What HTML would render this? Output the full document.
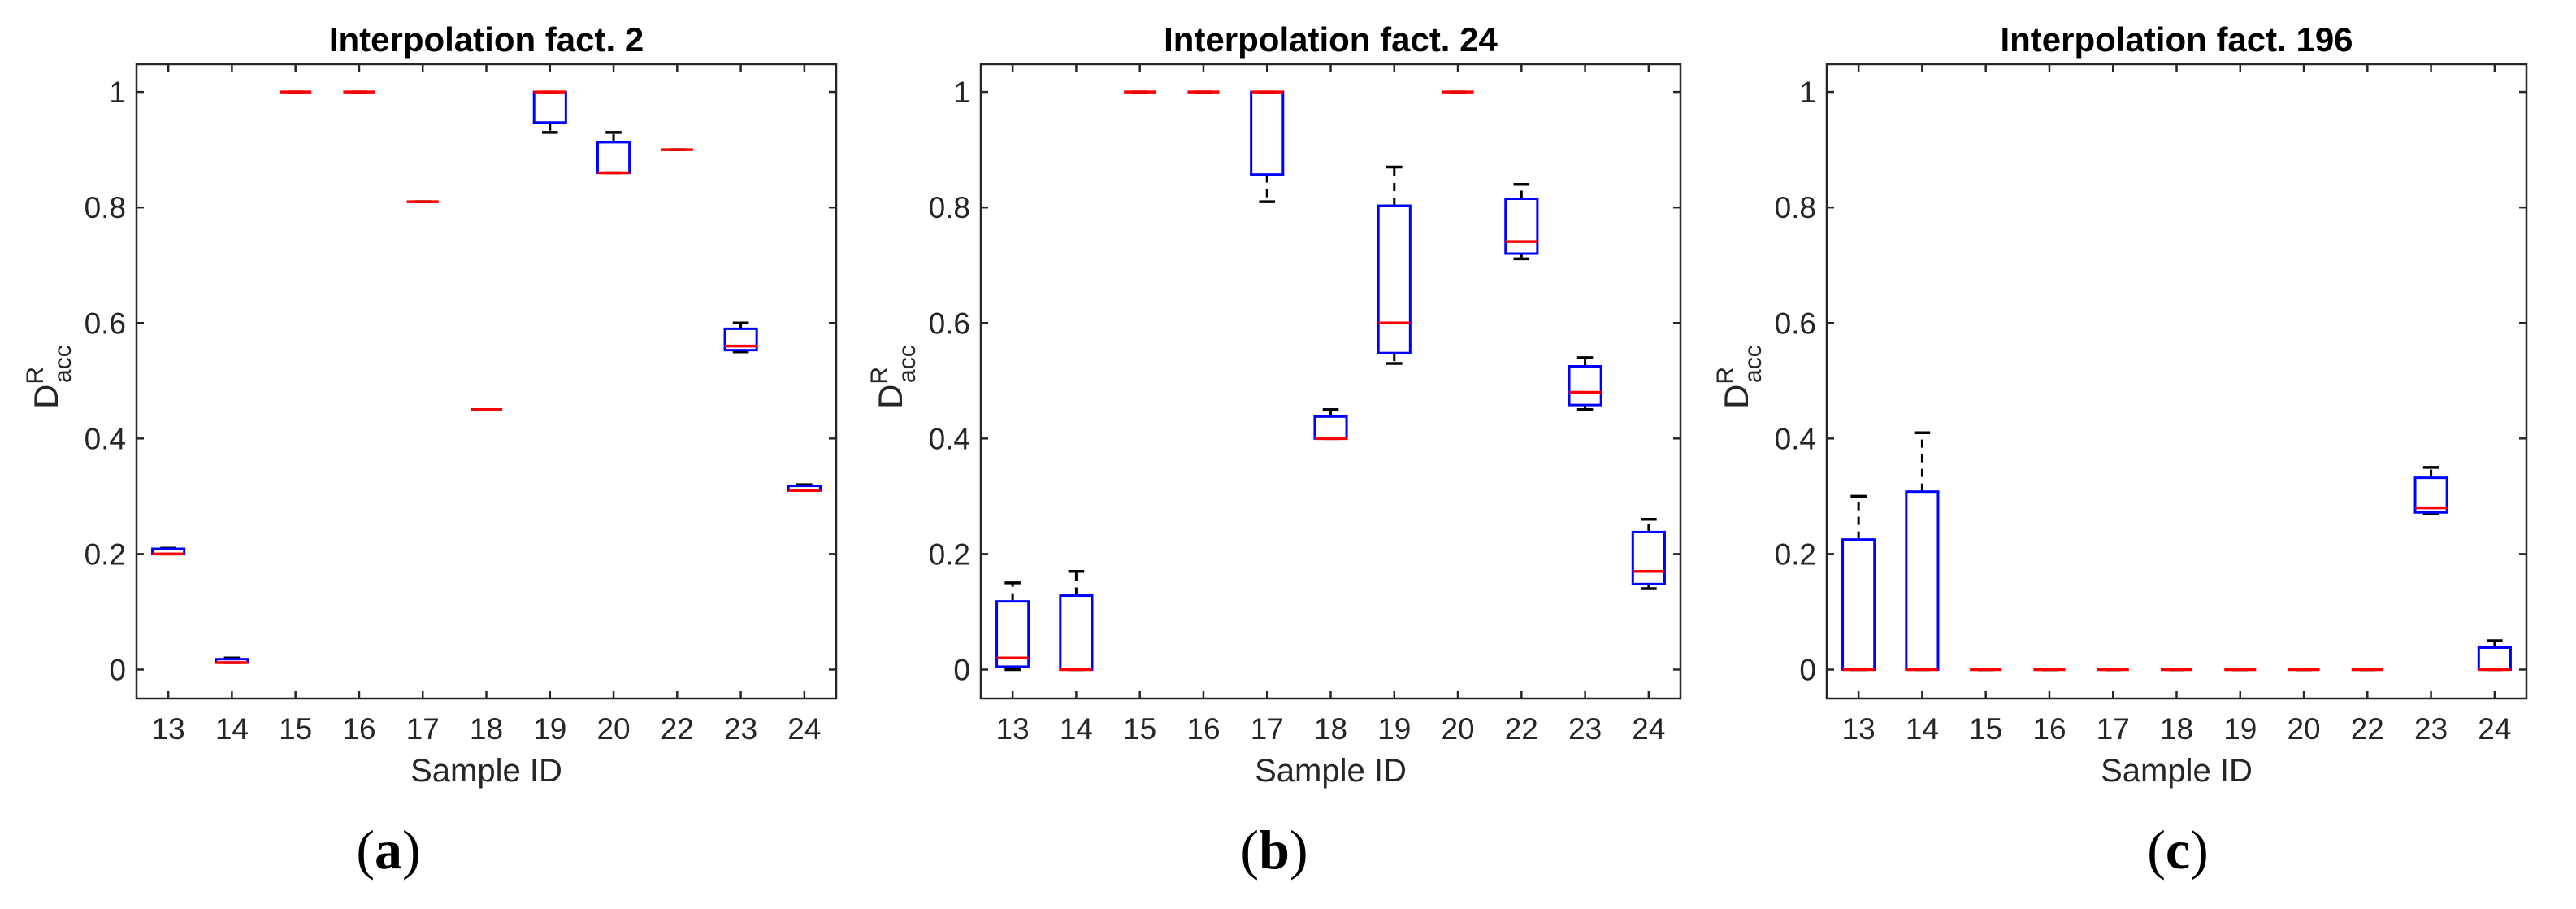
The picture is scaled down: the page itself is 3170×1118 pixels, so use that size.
<!DOCTYPE html>
<html><head><meta charset="utf-8"><style>
html,body{margin:0;padding:0;background:#fff}
svg{display:block}
text{font-family:"Liberation Sans",Arial,sans-serif;fill:#262626}
</style></head><body>
<svg id="fig" width="3170" height="1118" viewBox="0 0 3170 1118" xmlns="http://www.w3.org/2000/svg"></svg>
<script>
const categories = ["13","14","15","16","17","18","19","20","22","23","24"];
const yTickLabels = ["0","0.2","0.4","0.6","0.8","1"];
const yTickValues = [0,0.2,0.4,0.6,0.8,1];
const titles = ["Interpolation fact. 2","Interpolation fact. 24","Interpolation fact. 196"];
const panelLabels = ["a","b","c"];

// Panel a
const aMedian = [0.20,0.012,1,1,0.81,0.45,1,0.86,0.90,0.56,0.31];
const aQ1     = [0.20,0.012,1,1,0.81,0.45,0.947,0.86,0.90,0.553,0.31];
const aQ3     = [0.209,0.018,1,1,0.81,0.45,1,0.913,0.90,0.59,0.318];
const aWLo    = [0.20,0.012,1,1,0.81,0.45,0.93,0.86,0.90,0.55,0.31];
const aWHi    = [0.21,0.02,1,1,0.81,0.45,1,0.93,0.90,0.60,0.32];
// Panel b
const bMedian = [0.02,0,1,1,1,0.40,0.60,1,0.741,0.48,0.17];
const bQ1     = [0.005,0,1,1,0.857,0.40,0.548,1,0.72,0.458,0.148];
const bQ3     = [0.118,0.128,1,1,1,0.438,0.803,1,0.815,0.525,0.238];
const bWLo    = [0,0,1,1,0.81,0.40,0.53,1,0.711,0.45,0.14];
const bWHi    = [0.15,0.17,1,1,1,0.45,0.87,1,0.84,0.54,0.26];
// Panel c
const cMedian = [0,0,0,0,0,0,0,0,0,0.28,0];
const cQ1     = [0,0,0,0,0,0,0,0,0,0.272,0];
const cQ3     = [0.225,0.308,0,0,0,0,0,0,0,0.332,0.038];
const cWLo    = [0,0,0,0,0,0,0,0,0,0.27,0];
const cWHi    = [0.30,0.41,0,0,0,0,0,0,0,0.35,0.05];

const panels = [
  {left:168, med:aMedian,q1:aQ1,q3:aQ3,lo:aWLo,hi:aWHi, lx:478},
  {left:1207,med:bMedian,q1:bQ1,q3:bQ3,lo:bWLo,hi:bWHi, lx:1568},
  {left:2248,med:cMedian,q1:cQ1,q3:cQ3,lo:cWLo,hi:cWHi, lx:2680}
];
const NS="http://www.w3.org/2000/svg";
const svg=document.getElementById('fig');
const TOP=79, BOT=859, YMIN=-0.05, YMAX=1.048, W=861;
function mk(tag,attrs,parent){const e=document.createElementNS(NS,tag);for(const k in attrs)e.setAttribute(k,attrs[k]);(parent||svg).appendChild(e);return e;}
panels.forEach((p,pi)=>{
  const g=mk('g',{});
  
  
  const xs=i=>p.left+(i+0.5)*(W/categories.length);
  const ys=v=>BOT-(v-YMIN)/(YMAX-YMIN)*(BOT-TOP);
  const unit=W/categories.length;
  // axes box
  const box=mk('rect',{x:p.left,y:TOP,width:W,height:BOT-TOP,fill:'none',stroke:'#262626','stroke-width':2.5},g);
  
  
  // x ticks
  categories.forEach((c,i)=>{
    const x=xs(i);
    mk('line',{x1:x,y1:BOT,x2:x,y2:BOT-9,stroke:'#262626','stroke-width':2.5},g);
    mk('line',{x1:x,y1:TOP,x2:x,y2:TOP+9,stroke:'#262626','stroke-width':2.5},g);
    const t=mk('text',{x:x,y:909,'text-anchor':'middle','font-size':37},g);
    t.textContent=c;
    
    
  });
  yTickValues.forEach((v,i)=>{
    const y=ys(v);
    mk('line',{x1:p.left,y1:y,x2:p.left+9,y2:y,stroke:'#262626','stroke-width':2.5},g);
    mk('line',{x1:p.left+W,y1:y,x2:p.left+W-9,y2:y,stroke:'#262626','stroke-width':2.5},g);
    const t=mk('text',{x:p.left-13,y:y+13,'text-anchor':'end','font-size':37},g);
    t.textContent=yTickLabels[i];
    
    
  });
  // boxes
  categories.forEach((c,i)=>{
    const x=xs(i), hw=unit*0.25, cw=unit*0.125;
    const bg=mk('g',{},g);
    
    
    const yq1=ys(p.q1[i]), yq3=ys(p.q3[i]), ylo=ys(p.lo[i]), yhi=ys(p.hi[i]);
    if(yhi<yq3) mk('line',{x1:x,y1:yq3,x2:x,y2:yhi,stroke:'#000','stroke-width':3,'stroke-dasharray':'10,8'},bg);
    if(ylo>yq1) mk('line',{x1:x,y1:yq1,x2:x,y2:ylo,stroke:'#000','stroke-width':3,'stroke-dasharray':'10,8'},bg);
    mk('line',{x1:x-cw,y1:yhi,x2:x+cw,y2:yhi,stroke:'#000','stroke-width':3.5},bg);
    mk('line',{x1:x-cw,y1:ylo,x2:x+cw,y2:ylo,stroke:'#000','stroke-width':3.5},bg);
    mk('rect',{x:x-hw,y:yq3,width:2*hw,height:Math.max(0,yq1-yq3),fill:'none',stroke:'#0000ff','stroke-width':3},bg);
    const m=mk('line',{x1:x-hw,y1:ys(p.med[i]),x2:x+hw,y2:ys(p.med[i]),stroke:'#ff0000','stroke-width':3.5},bg);
    
    
  });
  const cx=p.left+W/2;
  const tt=mk('text',{x:cx,y:63,'text-anchor':'middle','font-size':42,'font-weight':'bold',style:'fill:#000'},g);
  tt.textContent=titles[pi];
  
  
  const xl=mk('text',{x:cx,y:961,'text-anchor':'middle','font-size':40},g);
  xl.textContent='Sample ID';
  
  
  const yl=mk('text',{transform:'translate('+(p.left-97)+',503) rotate(-90)','font-size':42},g);
  
  
  yl.innerHTML='D<tspan dy="-18" font-size="30">R</tspan><tspan dx="-20" dy="34" font-size="30">acc</tspan>';
  const pl=mk('text',{x:p.lx,y:1068,'text-anchor':'middle','font-size':68,style:'font-family:"Liberation Serif",serif;fill:#000'},g);
  pl.innerHTML='(<tspan font-weight="bold">'+panelLabels[pi]+'</tspan>)';
  
  
});
</script>
</body></html>
